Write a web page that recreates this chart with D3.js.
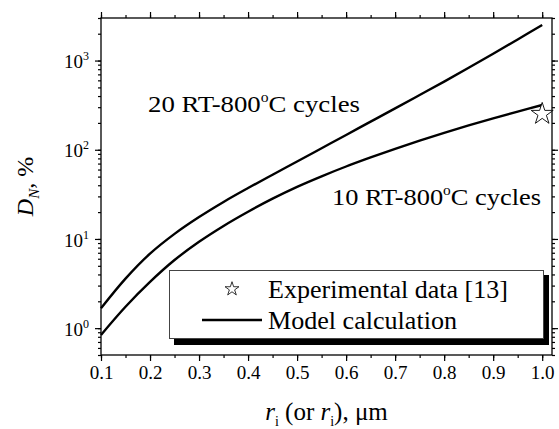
<!DOCTYPE html>
<html>
<head>
<meta charset="utf-8">
<script src="https://cdn.jsdelivr.net/npm/d3@7"></script>
<style>
  body { margin:0; background:#fff; }
  svg text, svg tspan { font-family:"Liberation Serif","Times New Roman",Times,serif !important; fill:#000; }
</style>
</head>
<body>
<svg id="svg" width="559" height="429" font-family="Liberation Serif, Times New Roman, serif"></svg>
<script>
var svg = d3.select("#svg");

// data
var radius   = [0.1,0.15,0.2,0.25,0.3,0.35,0.4,0.45,0.5,0.55,0.6,0.65,0.7,0.75,0.8,0.85,0.9,0.95,1.0];
var cycles20 = [1.67,3.59,6.84,11.4,17.6,26.0,37.2,52.5,73.8,104,146.6,206.5,291,411,581,830,1194,1726,2506];
var cycles10 = [0.84,1.74,3.3,5.8,9.3,14.0,20.2,28.3,38.4,50.4,64.9,82.0,102.6,126.8,154.9,187.5,224.9,267.9,317.7];
var expX = [1.0], expY = [252];
var xTicks = [0.1,0.2,0.3,0.4,0.5,0.6,0.7,0.8,0.9,1.0];
var yTicks = [1,10,100,1000];
var yExp   = ["0","1","2","3"];

var L = 101, R = 552, T = 18, B = 355;
var serif = "Liberation Serif, Times New Roman, serif";

var x = d3.scaleLinear().domain([0.1,1.02]).range([L,R]);
var y = d3.scaleLog().domain([0.5,3000]).range([B,T]);

var xMinor = d3.range(0.1,1.0001,0.05);
var yMinor = [];
[0.1,1,10,100,1000].forEach(function(d){ d3.range(1,10).forEach(function(k){
    var v = d*k; if (v>=0.5 && v<=3000) yMinor.push(v); }); });

function axisStyle(g){
  g.attr("font-family",serif);
  g.selectAll("line").attr("stroke","#000").attr("stroke-width",1.2);
  g.select(".domain").remove();
}

// minor ticks, every side, outward
svg.append("g").attr("transform","translate(0,"+B+")").call(d3.axisBottom(x).tickValues(xMinor).tickSize(3).tickFormat("")).call(axisStyle);
svg.append("g").attr("transform","translate(0,"+T+")").call(d3.axisTop(x).tickValues(xMinor).tickSize(3).tickFormat("")).call(axisStyle);
svg.append("g").attr("transform","translate("+L+",0)").call(d3.axisLeft(y).tickValues(yMinor).tickSize(3).tickFormat("")).call(axisStyle);
svg.append("g").attr("transform","translate("+R+",0)").call(d3.axisRight(y).tickValues(yMinor).tickSize(3).tickFormat("")).call(axisStyle);

// major ticks
var xb = svg.append("g").attr("transform","translate(0,"+B+")")
  .call(d3.axisBottom(x).tickValues(xTicks).tickSize(6).tickPadding(5).tickFormat(d3.format(".1f"))).call(axisStyle);
xb.selectAll("text").attr("font-size",19);
svg.append("g").attr("transform","translate(0,"+T+")").call(d3.axisTop(x).tickValues(xTicks).tickSize(6).tickFormat("")).call(axisStyle);
svg.append("g").attr("transform","translate("+R+",0)").call(d3.axisRight(y).tickValues(yTicks).tickSize(6).tickFormat("")).call(axisStyle);
var yl = svg.append("g").attr("transform","translate("+L+",0)")
  .call(d3.axisLeft(y).tickValues(yTicks).tickSize(6).tickFormat("")).call(axisStyle);
yl.selectAll(".tick text").attr("font-size",19)
  .attr("dy","0.38em").attr("x",-37).attr("text-anchor","start")
  .each(function(d,i){
    var t = d3.select(this);
    t.append("tspan").text("10");
    t.append("tspan").attr("dy",-8).attr("font-size",12).text(yExp[i]);
  });

// frame
svg.append("rect").attr("x",L).attr("y",T).attr("width",R-L).attr("height",B-T)
  .attr("fill","none").attr("stroke","#000").attr("stroke-width",1.3);

// curves
var line = d3.line().x(function(d){return x(d[0]);}).y(function(d){return y(d[1]);}).curve(d3.curveCatmullRom);
[cycles20,cycles10].forEach(function(s){
  svg.append("path").datum(d3.zip(radius,s)).attr("d",line)
    .attr("fill","none").attr("stroke","#000").attr("stroke-width",2.4);
});

// experiment point
var star = function(sz){ return d3.symbol().type(d3.symbolStar).size(sz)(); };
svg.selectAll(null).data(d3.zip(expX,expY)).enter().append("path")
  .attr("d",star(150)).attr("transform",function(d){return "translate("+x(d[0])+","+y(d[1])+")";})
  .attr("fill","#fff").attr("stroke","#000").attr("stroke-width",0.9);

// curve labels
function cycLabel(n, xx, yy, len){
  var t = svg.append("text").attr("x",xx).attr("y",yy).attr("font-size",24).attr("font-family",serif)
    .attr("textLength",len).attr("lengthAdjust","spacingAndGlyphs");
  t.append("tspan").text(n+" RT-800");
  t.append("tspan").attr("dy",-10).attr("font-size",14).text("o");
  t.append("tspan").attr("dy",10).text("C cycles");
}
cycLabel(20, 148, 112, 212);
cycLabel(10, 332, 205, 209);

// legend
var lg = svg.append("g").attr("font-family",serif);
lg.append("rect").attr("x",174).attr("y",275).attr("width",375).attr("height",70).attr("fill","#000");
lg.append("rect").attr("x",169.5).attr("y",270.5).attr("width",374).attr("height",68)
  .attr("fill","#fff").attr("stroke","#444").attr("stroke-width",1);
lg.append("path").attr("d",star(60)).attr("transform","translate(232,289)")
  .attr("fill","#fff").attr("stroke","#000").attr("stroke-width",0.8);
lg.append("line").attr("x1",202).attr("x2",262).attr("y1",320).attr("y2",320)
  .attr("stroke","#000").attr("stroke-width",2.4);
lg.append("text").attr("x",268).attr("y",298).attr("font-size",25)
  .attr("textLength",240).attr("lengthAdjust","spacingAndGlyphs").text("Experimental data [13]");
lg.append("text").attr("x",268).attr("y",329).attr("font-size",25)
  .attr("textLength",189).attr("lengthAdjust","spacingAndGlyphs").text("Model calculation");

// axis titles
var xt = svg.append("text").attr("x",(L+R)/2).attr("y",420).attr("font-size",25)
  .attr("font-family",serif).attr("text-anchor","middle");
xt.append("tspan").attr("font-style","italic").text("r");
xt.append("tspan").attr("dy",6).attr("font-size",14).text("i");
xt.append("tspan").attr("dy",-6).text(" (or ");
xt.append("tspan").attr("font-style","italic").text("r");
xt.append("tspan").attr("dy",6).attr("font-size",14).text("i");
xt.append("tspan").attr("dy",-6).text("), \u03bcm");

var yt = svg.append("text").attr("transform","translate(33,"+((T+B)/2)+") rotate(-90)")
  .attr("font-size",24).attr("font-family",serif).attr("text-anchor","middle");
yt.append("tspan").attr("font-style","italic").text("D");
yt.append("tspan").attr("dy",6).attr("font-size",15).attr("font-style","italic").text("N");
yt.append("tspan").attr("dy",-6).text(", %");
</script>
</body>
</html>
